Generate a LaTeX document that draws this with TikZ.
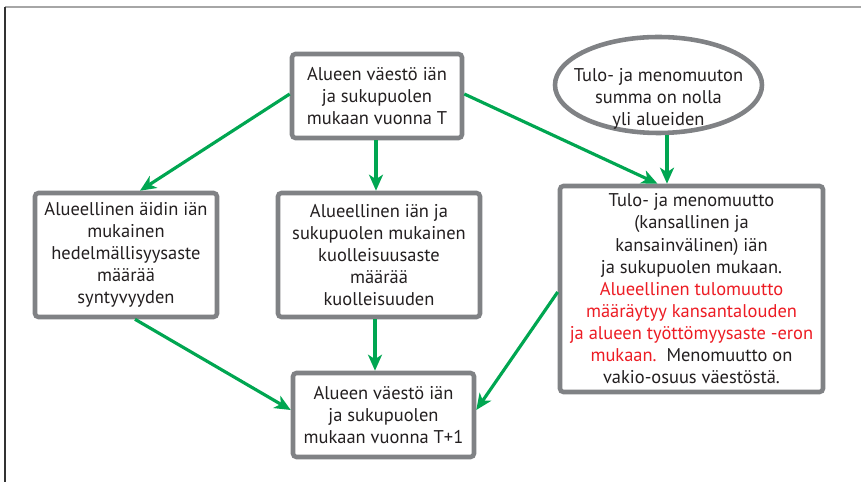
\documentclass[tikz,border=0pt]{standalone}
\usepackage{fontspec}
\setmainfont{PT Sans}
\usepackage{tikz}
\usetikzlibrary{arrows.meta,positioning,calc,shapes.geometric}
\definecolor{kehys}{RGB}{128,130,133}
\definecolor{vihrea}{RGB}{0,166,81}
\definecolor{punainen}{RGB}{237,28,36}
\definecolor{teksti}{RGB}{35,31,32}
\tikzset{
  laatikko/.style={draw=kehys,line width=2.6pt,rounded corners=2pt,fill=white,inner sep=2pt,align=center,
                   text=teksti,font=\fontsize{10.5}{12.6}\selectfont},
  soikio/.style={ellipse,draw=kehys,line width=2.6pt,fill=white,inner sep=0pt},
  sisus/.style={inner sep=0pt,align=center,text=teksti,font=\fontsize{10.5}{12.6}\selectfont},
  nuoli/.style={-{Stealth[length=3.2mm,width=2.8mm,inset=0.9mm]},draw=vihrea,line width=1.8pt},
}
\begin{document}
\begin{tikzpicture}
  \useasboundingbox (0,0) rectangle (17.22,9.64);
  \draw[gray!70,line width=0.8pt] (0.1,9.5) -- (17.22,9.5);
  \draw[black!80,line width=0.6pt] (0.1,9.5) -- (0.1,0);
  % solmut
  \node[laatikko,minimum width=3.4cm,minimum height=1.68cm] (vT) at (7.54,7.72)
    {Alueen väestö iän\\ja sukupuolen\\mukaan vuonna T};
  \node[soikio,minimum width=4.14cm,minimum height=1.92cm] (summa) at (13.17,7.94) {};
  \node[sisus] (summateksti) at ([yshift=-0.28cm]summa.center)
    {Tulo- ja menomuuton\\summa on nolla\\yli alueiden};
  \node[laatikko,minimum width=3.64cm,minimum height=2.48cm] (synt) at (2.52,4.54)
    {Alueellinen äidin iän\\mukainen\\hedelmällisyysaste\\määrää\\syntyvyyden};
  \node[laatikko,minimum width=4.04cm,minimum height=2.48cm] (kuol) at (7.58,4.54)
    {Alueellinen iän ja\\sukupuolen mukainen\\kuolleisuusaste\\määrää\\kuolleisuuden};
  \node[laatikko,minimum width=5.26cm,minimum height=4.12cm] (muutto) at (13.83,3.86)
    {Tulo- ja menomuutto\\(kansallinen ja\\kansainvälinen) iän\\ja sukupuolen mukaan.\\
     \textcolor{punainen}{Alueellinen tulomuutto}\\\textcolor{punainen}{määräytyy kansantalouden}\\
     \textcolor{punainen}{ja alueen työttömyysaste -eron}\\\textcolor{punainen}{mukaan.}\ \ Menomuutto on\\
     vakio-osuus väestöstä.};
  \node[laatikko,minimum width=3.62cm,minimum height=1.68cm] (vT1) at (7.67,1.34)
    {Alueen väestö iän\\ja sukupuolen\\mukaan vuonna T+1};
  % nuolet
  \draw[nuoli] ([yshift=0.04cm]vT.west) -- ([xshift=0.28cm]synt.north);
  \draw[nuoli] ([xshift=-0.02cm]vT.south) -- ([xshift=-0.02cm]vT.south |- kuol.north);
  \draw[nuoli] ([yshift=0.04cm]vT.east) -- ([xshift=-0.68cm]muutto.north);
  \draw[nuoli] ([xshift=0.17cm]summa.south) -- ([xshift=0.17cm]summa.south |- muutto.north);
  \draw[nuoli] ([xshift=0.18cm]synt.south) -- ([yshift=0.1cm]vT1.west);
  \draw[nuoli] ([xshift=-0.08cm]kuol.south) -- ([xshift=-0.08cm]kuol.south |- vT1.north);
  \draw[nuoli] ([yshift=-0.06cm]muutto.west) -- ([yshift=0.1cm]vT1.east);
\end{tikzpicture}
\end{document}
